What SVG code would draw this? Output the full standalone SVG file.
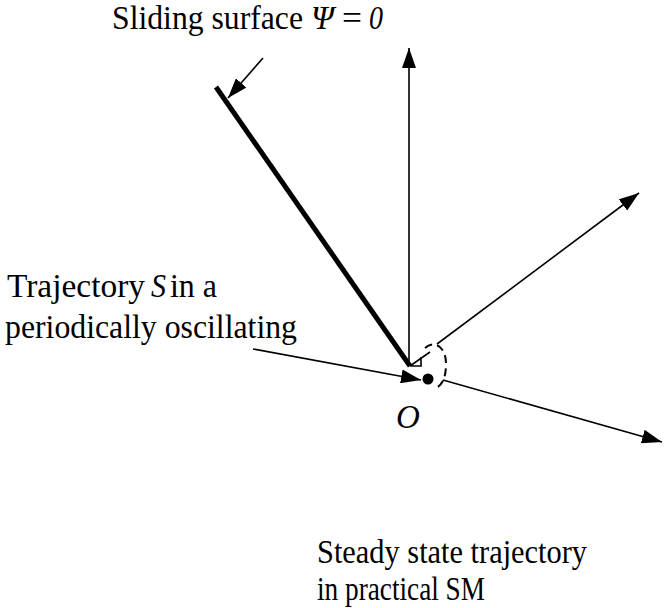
<svg xmlns="http://www.w3.org/2000/svg" width="664" height="608" viewBox="0 0 664 608">
<style>
text{font-family:"Liberation Serif","Times New Roman",Tinos,"DejaVu Serif",serif;fill:#000;font-size:33px}
.i{font-style:italic}
.ln{stroke:#000;stroke-width:1.6;fill:none}
</style>
<defs>
<marker id="big" viewBox="0 0 10 10" refX="10" refY="5" markerWidth="20" markerHeight="14" markerUnits="userSpaceOnUse" orient="auto" preserveAspectRatio="none">
<path d="M0,0 L10,5 L0,10 z" fill="#000"/>
</marker>
</defs>
<rect width="664" height="608" fill="#fff"/>
<g id="connectors">
<line class="ln" x1="409" y1="366" x2="409" y2="48" marker-end="url(#big)"/>
<line class="ln" x1="437" y1="344" x2="639" y2="193" marker-end="url(#big)"/>
<line class="ln" x1="443" y1="380" x2="662" y2="442" marker-end="url(#big)"/>
<line class="ln" x1="253" y1="349" x2="421" y2="380" marker-end="url(#big)"/>
<line class="ln" x1="263" y1="58" x2="228" y2="98" marker-end="url(#big)" stroke-width="1"/>
<path class="ln" d="M410,366 L421,366 L421,357 M410,366 L430,352"/>
</g>
<g id="sliding-surface">
<line x1="216" y1="87" x2="410" y2="366" stroke="#000" stroke-width="5"/>
</g>
<g id="origin">
<path d="M425,348 C434,340 446,346 446,364 C446,378 442,386 434,389" stroke="#000" stroke-width="2" fill="none" stroke-dasharray="8,5"/>
<circle cx="428" cy="379" r="5.5" fill="#000"/>
<text class="i" x="396" y="428" font-size="29">O</text>
</g>
<g id="labels">
<text x="112" y="29" textLength="191" lengthAdjust="spacingAndGlyphs">Sliding surface</text>
<text class="i" x="311" y="29" textLength="23" lengthAdjust="spacingAndGlyphs">Ψ</text>
<text x="342" y="29" textLength="20" lengthAdjust="spacingAndGlyphs">=</text>
<text class="i" x="369" y="29" textLength="14" lengthAdjust="spacingAndGlyphs">0</text>
<text x="7" y="297" textLength="138" lengthAdjust="spacingAndGlyphs">Trajectory</text>
<text class="i" x="151" y="297" textLength="15" lengthAdjust="spacingAndGlyphs">S</text>
<text x="170" y="297" textLength="47" lengthAdjust="spacingAndGlyphs">in a</text>
<text x="5" y="338" textLength="292" lengthAdjust="spacingAndGlyphs">periodically oscillating</text>
<text x="317" y="563" textLength="270" lengthAdjust="spacingAndGlyphs">Steady state trajectory</text>
<text x="317" y="600" textLength="168" lengthAdjust="spacingAndGlyphs">in practical SM</text>
</g>
</svg>
